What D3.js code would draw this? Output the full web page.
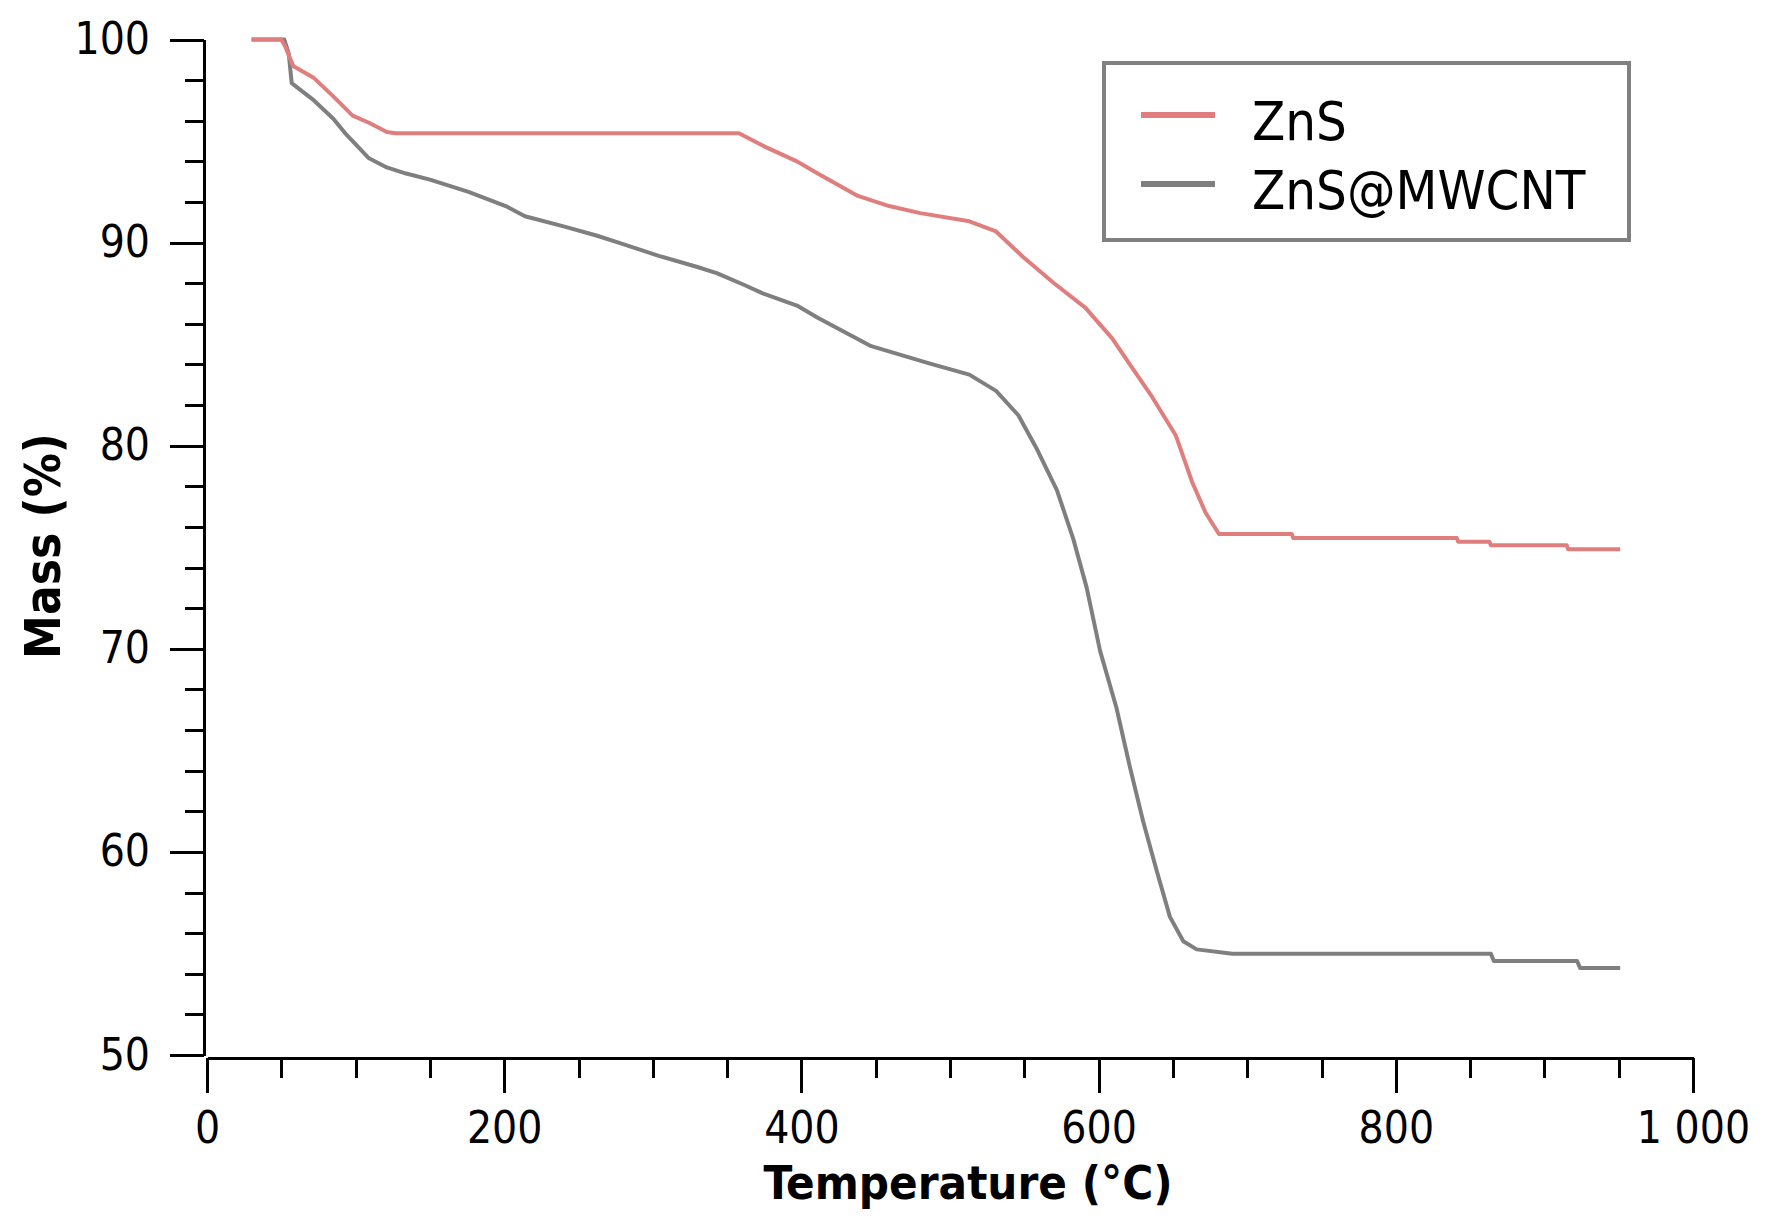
<!DOCTYPE html>
<html>
<head>
<meta charset="utf-8">
<script src="https://cdn.jsdelivr.net/npm/d3@7"></script>
<style>
  html, body { margin: 0; padding: 0; background: #fff; }
  svg { display: block; }
  text { font-family: "DejaVu Sans Condensed", "DejaVu Sans", sans-serif; font-stretch: condensed; fill: #000; }
</style>
</head>
<body>
<div id="chart"></div>
<script>
// TGA curves (temperature in °C, mass in %)
const znsTemp = [30, 50, 53, 58, 72, 85, 98, 109, 121, 127, 358, 376, 397, 411, 438, 459, 480, 513, 531, 549, 570, 591, 609, 621, 636, 652, 663, 672, 681, 730, 731, 841, 842, 863, 864, 915, 916, 951];
const znsMass = [100, 100, 99.6, 98.7, 98.1, 97.2, 96.25, 95.9, 95.45, 95.38, 95.38, 94.7, 94.0, 93.4, 92.3, 91.8, 91.45, 91.05, 90.55, 89.3, 88.0, 86.8, 85.3, 84.0, 82.4, 80.5, 78.2, 76.7, 75.65, 75.65, 75.45, 75.45, 75.27, 75.27, 75.1, 75.1, 74.9, 74.9];

const cntTemp = [30, 52, 55, 57, 65, 72, 85, 94, 109, 121, 134, 150, 176, 201, 214, 240, 262, 279, 304, 330, 343, 362, 374, 397, 411, 447, 486, 513, 531, 546, 558, 572, 583, 592, 601, 612, 621, 630, 639, 648, 657, 666, 690, 864, 866, 922, 924, 951];
const cntMass = [100, 100, 99.3, 97.85, 97.4, 97.0, 96.1, 95.3, 94.15, 93.7, 93.4, 93.1, 92.5, 91.8, 91.3, 90.8, 90.35, 89.95, 89.35, 88.8, 88.5, 87.9, 87.5, 86.9, 86.3, 84.9, 84.05, 83.5, 82.7, 81.5, 79.9, 77.8, 75.4, 73.0, 69.9, 67.1, 64.2, 61.5, 59.1, 56.8, 55.6, 55.2, 54.98, 54.98, 54.63, 54.63, 54.28, 54.28];

const seriesNames = ["ZnS", "ZnS@MWCNT"];
const seriesColors = ["#e07e7e", "#7f7f7f"];

const xMajor = [0, 200, 400, 600, 800, 1000];
const yMajor = [50, 60, 70, 80, 90, 100];

const W = 1770, H = 1232;

const svg = d3.select("#chart").append("svg")
  .attr("width", W)
  .attr("height", H);

const x = d3.scaleLinear().domain([0, 1000]).range([207, 1693]);
const y = d3.scaleLinear().domain([50, 100]).range([1055, 39.5]);

const fmt = d => d >= 1000 ? d3.format(",")(d).replace(",", " ") : String(d);

// x axis: minor ticks every 50, labelled majors every 200
const xMinor = svg.append("g")
  .attr("transform", "translate(0,1058)")
  .call(d3.axisBottom(x).tickValues(d3.range(0, 1001, 50)).tickSize(20).tickSizeOuter(0).tickFormat(""));
xMinor.select(".domain").remove();

const xAxis = svg.append("g")
  .attr("transform", "translate(0,1058)")
  .call(d3.axisBottom(x).tickValues(xMajor).tickSize(35).tickSizeOuter(0).tickPadding(19).tickFormat(fmt));

// y axis: minor ticks every 2, labelled majors every 10
const yMinor = svg.append("g")
  .attr("transform", "translate(204,0)")
  .call(d3.axisLeft(y).tickValues(d3.range(50, 101, 2)).tickSize(19).tickSizeOuter(0).tickFormat(""));
yMinor.select(".domain").remove();

const yAxis = svg.append("g")
  .attr("transform", "translate(204,0)")
  .call(d3.axisLeft(y).tickValues(yMajor).tickSize(34).tickSizeOuter(0).tickPadding(20));

svg.selectAll(".domain, .tick line")
  .attr("stroke", "#000")
  .attr("stroke-width", 3)
  .attr("shape-rendering", "crispEdges");

svg.selectAll(".tick text")
  .attr("font-family", null)
  .attr("font-size", 44)
  .attr("fill", "#000");

// axis titles
svg.append("text")
  .attr("x", 968)
  .attr("y", 1199)
  .attr("text-anchor", "middle")
  .attr("font-size", 47)
  .attr("font-weight", "bold")
  .text("Temperature (°C)");

svg.append("text")
  .attr("transform", "translate(60,546) rotate(-90)")
  .attr("text-anchor", "middle")
  .attr("font-size", 49)
  .attr("font-weight", "bold")
  .text("Mass (%)");

// curves
const line = d3.line()
  .x(d => x(d[0]))
  .y(d => y(d[1]));

const series = [
  d3.zip(cntTemp, cntMass),
  d3.zip(znsTemp, znsMass)
];
const order = [1, 0];

svg.append("g")
  .selectAll("path")
  .data(series)
  .join("path")
  .attr("d", line)
  .attr("fill", "none")
  .attr("stroke", (d, i) => seriesColors[order[i]])
  .attr("stroke-width", 4)
  .attr("stroke-linejoin", "round");

// legend
const legend = svg.append("g");
legend.append("rect")
  .attr("x", 1104)
  .attr("y", 63)
  .attr("width", 525)
  .attr("height", 177)
  .attr("fill", "#fff")
  .attr("stroke", "#808080")
  .attr("stroke-width", 4);

const rowY = [115, 184];
const items = legend.selectAll("g.item")
  .data(seriesNames)
  .join("g")
  .attr("class", "item");

items.append("line")
  .attr("x1", 1141)
  .attr("x2", 1215)
  .attr("y1", (d, i) => rowY[i])
  .attr("y2", (d, i) => rowY[i])
  .attr("stroke", (d, i) => seriesColors[i])
  .attr("stroke-width", 6);

items.append("text")
  .attr("x", 1252)
  .attr("y", (d, i) => rowY[i] + 25)
  .attr("font-size", 54)
  .text(d => d);
</script>
</body>
</html>
